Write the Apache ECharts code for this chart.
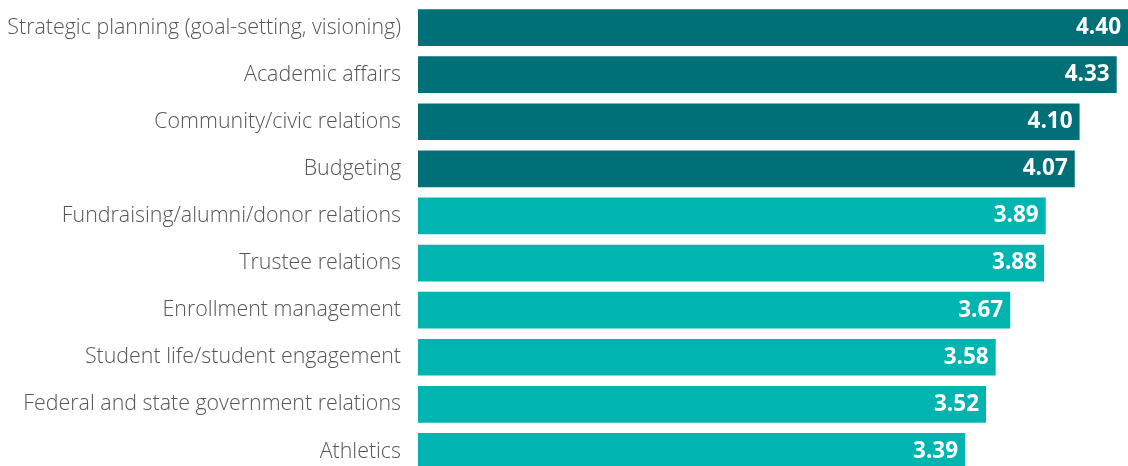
<!DOCTYPE html>
<html>
<head>
<meta charset="utf-8">
<script src="https://cdn.jsdelivr.net/npm/echarts@6/dist/echarts.min.js"></script>
<style>
  html, body { margin: 0; padding: 0; background: #fff; overflow: hidden; }
  /* the bottom bar is cut off by the frame in the original, so the canvas runs past it */
  #chart { width: 1128px; height: 478px; }
</style>
</head>
<body>
<div id="chart"></div>
<script>
const categories = [
  'Strategic planning (goal-setting, visioning)',
  'Academic affairs',
  'Community/civic relations',
  'Budgeting',
  'Fundraising/alumni/donor relations',
  'Trustee relations',
  'Enrollment management',
  'Student life/student engagement',
  'Federal and state government relations',
  'Athletics'
];
const scores = [4.40, 4.33, 4.10, 4.07, 3.89, 3.88, 3.67, 3.58, 3.52, 3.39];
const topCount = 4; // first four bars are highlighted in dark teal

const chart = echarts.init(document.getElementById('chart'));

const option = {
  animation: false,
  grid: {
    left: 418,
    right: 0,
    top: 4,
    height: 471,
    containLabel: false
  },
  xAxis: {
    type: 'value',
    min: 0,
    max: 4.4,
    show: false
  },
  yAxis: {
    type: 'category',
    inverse: true,
    data: categories,
    axisLine: { show: false },
    axisTick: { show: false },
    axisLabel: {
      margin: 17,
      color: '#555',
      fontFamily: 'Open Sans',
      fontWeight: 300,
      fontSize: 21.4
    }
  },
  series: [
    {
      type: 'bar',
      barCategoryGap: '22%',
      data: scores.map((v, i) => ({
        value: v,
        itemStyle: { color: i < topCount ? '#007078' : '#00B5AF' }
      })),
      label: {
        show: true,
        position: 'insideRight',
        distance: 7,
        color: '#fff',
        fontFamily: 'Open Sans',
        fontWeight: 'bold',
        fontSize: 22.5,
        formatter: p => p.value.toFixed(2)
      }
    }
  ]
};

chart.setOption(option);
window.addEventListener('resize', function () {
  chart.resize();
});
</script>
</body>
</html>
